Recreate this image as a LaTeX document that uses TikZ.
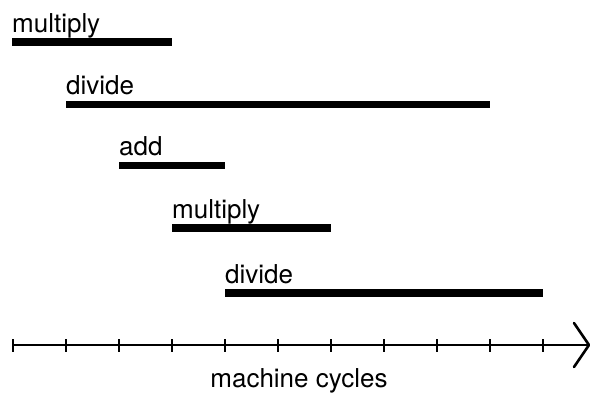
\documentclass[tikz,border=0pt]{standalone}
\usepackage{fontspec}
\setmainfont{TeX Gyre Heros}
\begin{document}
\begin{tikzpicture}[x=1pt,y=-1pt,
  bar/.style={line width=7.5pt},
  lbl/.style={anchor=base west,inner sep=0pt,font=\fontsize{26}{30}\selectfont},
  axisline/.style={line width=2.6pt},
  tick/.style={line width=2.6pt}]
\useasboundingbox (0,0) rectangle (590,394);
% labels and bars
\node[lbl] (l1) at (12,32) {multiply};
\draw[bar] (12,42) -- (172,42);
\node[lbl] (l2) at (66,94) {divide};
\draw[bar] (66,104.5) -- (490,104.5);
\node[lbl] (l3) at (119,155.5) {add};
\draw[bar] (119,165.5) -- (225,165.5);
\node[lbl] (l4) at (172,218) {multiply};
\draw[bar] (172,228) -- (331,228);
\node[lbl] (l5) at (225,283) {divide};
\draw[bar] (225,293) -- (543,293);
% axis
\coordinate (a0) at (13,345);
\coordinate (tip) at (589,345);
\draw[axisline] (a0) -- (tip);
\draw[axisline,line cap=round,line join=miter] (574,323) -- (tip) -- (574,367);
\foreach \i in {0,...,10} {
  \draw[tick] ({13+53*\i},339) -- ({13+53*\i},352);
}
\node[anchor=base,inner sep=0pt,font=\fontsize{26}{30}\selectfont] (cap) at (299,387) {machine cycles};
\end{tikzpicture}
\end{document}
